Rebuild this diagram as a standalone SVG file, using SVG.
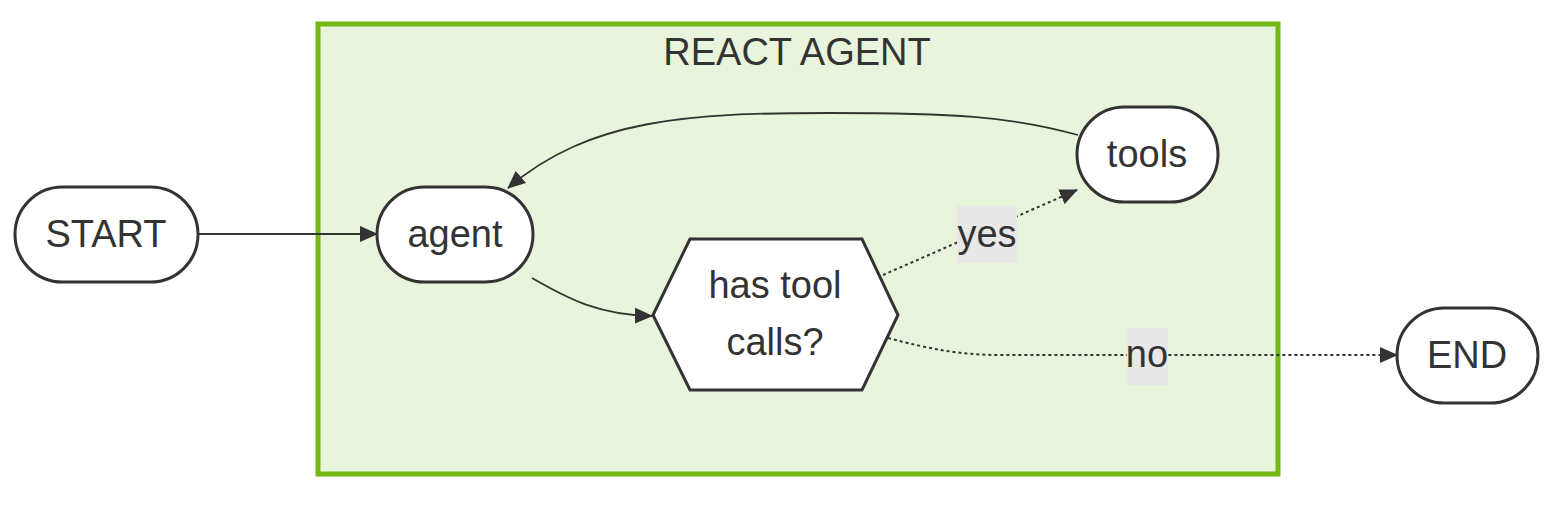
<svg xmlns="http://www.w3.org/2000/svg" width="1546" height="509" viewBox="0 0 1546 509">
<style>
.node{fill:#ffffff;stroke:#333333;stroke-width:3}
.txt{font-family:"Liberation Sans",Arial,sans-serif;font-size:38px;fill:#333333;text-anchor:middle}
.edge{fill:none;stroke:#333333;stroke-width:1.8}
.dot{fill:none;stroke:#333333;stroke-width:2;stroke-dasharray:3 3}
.lbl{fill:#e8e8e8}
</style>
<defs>
<marker id="arr" markerUnits="userSpaceOnUse" markerWidth="18" markerHeight="16" refX="17" refY="8" orient="auto" viewBox="0 0 18 16">
<path d="M0,0 L18,8 L0,16 z" fill="#333333"/>
</marker>
</defs>
<g id="cluster-react-agent">
<rect x="318" y="24" width="960" height="450" fill="#e8f5dc" stroke="#74b816" stroke-width="5"/>
<text class="txt" x="797" y="65">REACT AGENT</text>
</g>
<g id="connectors">
<path class="edge" d="M198,234 L377,234" marker-end="url(#arr)"/>
<path class="edge" d="M532,278 C570,300 600,315 652,316" marker-end="url(#arr)"/>
<path class="edge" d="M1078,135 C1010,116 950,113 830,113 C690,113 590,118 508,188" marker-end="url(#arr)"/>
<path class="dot" d="M883,275 L1077,190" marker-end="url(#arr)"/>
<path class="dot" d="M888,338 C930,349 960,355 1000,355 L1397,355" marker-end="url(#arr)"/>
<rect class="lbl" x="957" y="206" width="60" height="57"/>
<text class="txt" x="987" y="247">yes</text>
<rect class="lbl" x="1127" y="328" width="41" height="57"/>
<text class="txt" x="1147" y="367">no</text>
</g>
<g id="node-start">
<rect class="node" x="15" y="187" width="183" height="95" rx="47.5"/>
<text class="txt" x="106" y="247">START</text>
</g>
<g id="node-agent">
<rect class="node" x="377" y="187" width="156" height="95" rx="47.5"/>
<text class="txt" x="455" y="247">agent</text>
</g>
<g id="node-tools">
<rect class="node" x="1077" y="107" width="141" height="95" rx="47.5"/>
<text class="txt" x="1147" y="167">tools</text>
</g>
<g id="node-decision">
<polygon class="node" points="690,239 862,239 898,315 862,390 690,390 653,315"/>
<text class="txt" x="775" y="298">has tool</text>
<text class="txt" x="775" y="355">calls?</text>
</g>
<g id="node-end">
<rect class="node" x="1397" y="308" width="141" height="95" rx="47.5"/>
<text class="txt" x="1467" y="368">END</text>
</g>
</svg>
